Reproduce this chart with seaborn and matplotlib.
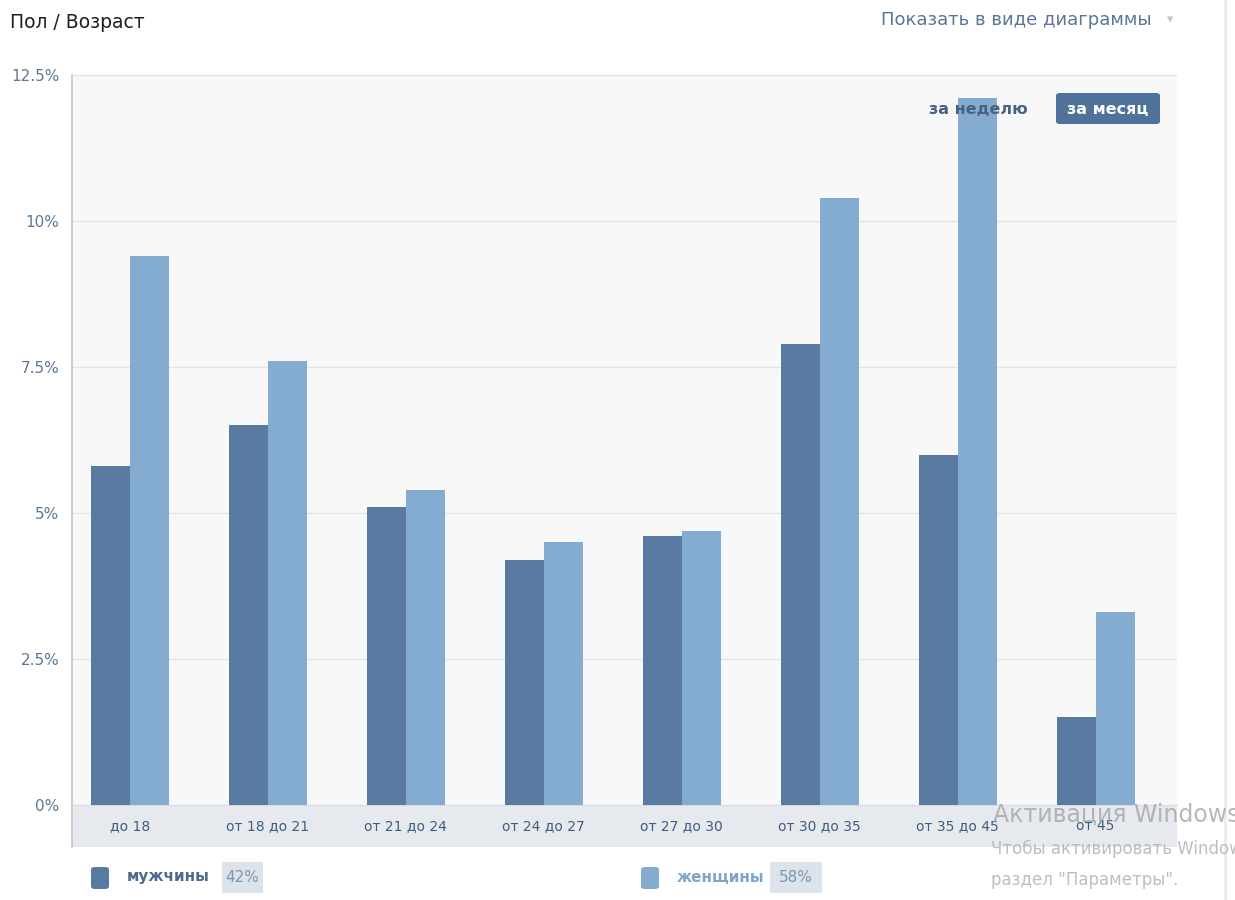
import numpy as np
import pandas as pd
import matplotlib
matplotlib.use("Agg")
import matplotlib.pyplot as plt
from matplotlib.patches import FancyBboxPatch, Rectangle
import seaborn as sns

# Data
age_groups = ["до 18", "от 18 до 21", "от 21 до 24", "от 24 до 27",
              "от 27 до 30", "от 30 до 35", "от 35 до 45", "от 45"]
men = [5.8, 6.5, 5.1, 4.2, 4.6, 7.9, 6.0, 1.5]
women = [9.4, 7.6, 5.4, 4.5, 4.7, 10.4, 12.1, 3.3]
series_names = ["мужчины", "женщины"]
series_share = ["42%", "58%"]
y_ticks = [0, 2.5, 5, 7.5, 10, 12.5]
y_tick_labels = ["0%", "2.5%", "5%", "7.5%", "10%", "12.5%"]

MEN_COLOR = "#5a7ba1"
WOMEN_COLOR = "#84acd0"


def main():
    sns.set_theme(style="white")
    plt.rcParams["font.family"] = ["DejaVu Sans"]

    df = pd.DataFrame({
        "group": age_groups * 2,
        "value": men + women,
        "sex": [series_names[0]] * len(men) + [series_names[1]] * len(women),
    })

    W, H = 1235, 900
    fig = plt.figure(figsize=(W / 100, H / 100), dpi=100)
    fig.patch.set_facecolor("white")

    left, right = 72, 1177
    top, zero, band_bottom = 75, 805, 847

    # label band under the plot
    band = fig.add_axes([left / W, 1 - band_bottom / H, (right - left) / W, (band_bottom - zero) / H])
    band.set_facecolor("#e6eaef")
    band.set_xticks([])
    band.set_yticks([])
    for s in ["right", "bottom"]:
        band.spines[s].set_visible(False)
    band.spines["left"].set_color("#c8c8c8")
    band.spines["top"].set_color("#d3d9e0")

    ax = fig.add_axes([left / W, 1 - zero / H, (right - left) / W, (zero - top) / H])
    ax.set_facecolor("#f8f8f9")
    sns.barplot(data=df, x="group", y="value", hue="sex",
                palette=[MEN_COLOR, WOMEN_COLOR], width=0.565, gap=0,
                saturation=1, legend=False, ax=ax, zorder=3)
    for p in ax.patches:
        p.set_edgecolor("none")

    ax.set_xlim(-0.42, 7.59)
    ax.set_ylim(0, 12.5)
    ax.set_yticks(y_ticks)
    ax.set_yticklabels(y_tick_labels)
    ax.set_xlabel("")
    ax.set_ylabel("")
    ax.grid(axis="y", color="#e4e4e4", linewidth=1, zorder=0)
    ax.set_axisbelow(True)
    ax.tick_params(axis="both", length=0)
    ax.tick_params(axis="y", pad=9, labelsize=11, labelcolor="#5d7896")
    ax.tick_params(axis="x", pad=10, labelsize=10, labelcolor="#3f5d80")
    for s in ["top", "right", "bottom"]:
        ax.spines[s].set_visible(False)
    ax.spines["left"].set_color("#c8c8c8")

    # header
    fig.text(10 / W, 1 - 22 / H, "Пол / Возраст", fontsize=13.5, color="#1e1e1e", va="center")
    fig.text(1152 / W, 1 - 20 / H, "Показать в виде диаграммы", fontsize=13,
             color="#5a7596", va="center", ha="right")
    fig.text(1170 / W, 1 - 20 / H, "▾", fontsize=9, color="#c0c5cc", va="center", ha="center")

    # period switch
    fig.text(1028 / W, 1 - 109 / H, "за неделю", fontsize=11.5, fontweight="bold",
             color="#4a6282", va="center", ha="right", zorder=5)
    btn = FancyBboxPatch((1056 / W, 1 - 124 / H), 104 / W, 31 / H,
                         boxstyle="round,pad=0,rounding_size=0.003",
                         transform=fig.transFigure, facecolor="#4e729a",
                         edgecolor="none", zorder=4)
    fig.patches.append(btn)
    fig.text(1108 / W, 1 - 109 / H, "за месяц", fontsize=11.5, fontweight="bold",
             color="white", va="center", ha="center", zorder=5)

    # legend
    leg_items = [(91, MEN_COLOR, "#4c6a8c", 222, 263),
                 (641, WOMEN_COLOR, "#7ea6cb", 770, 822)]
    for (x0, col, tcol, bx0, bx1), name, share in zip(leg_items, series_names, series_share):
        fig.patches.append(FancyBboxPatch((x0 / W, 1 - 889 / H), 18 / W, 22 / H,
                                          boxstyle="round,pad=0,rounding_size=0.003",
                                          transform=fig.transFigure, facecolor=col,
                                          edgecolor="none"))
        fig.text((x0 + 36) / W, 1 - 877 / H, name, fontsize=11, fontweight="bold",
                 color=tcol, va="center")
        fig.patches.append(Rectangle((bx0 / W, 1 - 893 / H), (bx1 - bx0) / W, 31 / H,
                                     transform=fig.transFigure, facecolor="#dde3ea",
                                     edgecolor="none"))
        fig.text((bx0 + bx1) / 2 / W, 1 - 877 / H, share, fontsize=11,
                 color="#7d96b1", va="center", ha="center")

    # page border on the right
    fig.patches.append(Rectangle((1224 / W, 0), 3 / W, 1, transform=fig.transFigure,
                                 facecolor="#ececec", edgecolor="none"))

    # system watermark seen in the screenshot
    fig.text(993 / W, 1 - 815 / H, "Активация Windows", fontsize=17, color="#a0a0a0",
             alpha=0.75, va="center", zorder=6)
    fig.text(991 / W, 1 - 849 / H, "Чтобы активировать Windows, перейдите в", fontsize=12,
             color="#a8a8a8", alpha=0.75, va="center", zorder=6)
    fig.text(991 / W, 1 - 880 / H, "раздел \"Параметры\".", fontsize=12,
             color="#a8a8a8", alpha=0.75, va="center", zorder=6)

    fig.savefig("out.png", dpi=100)


if __name__ == "__main__":
    main()
